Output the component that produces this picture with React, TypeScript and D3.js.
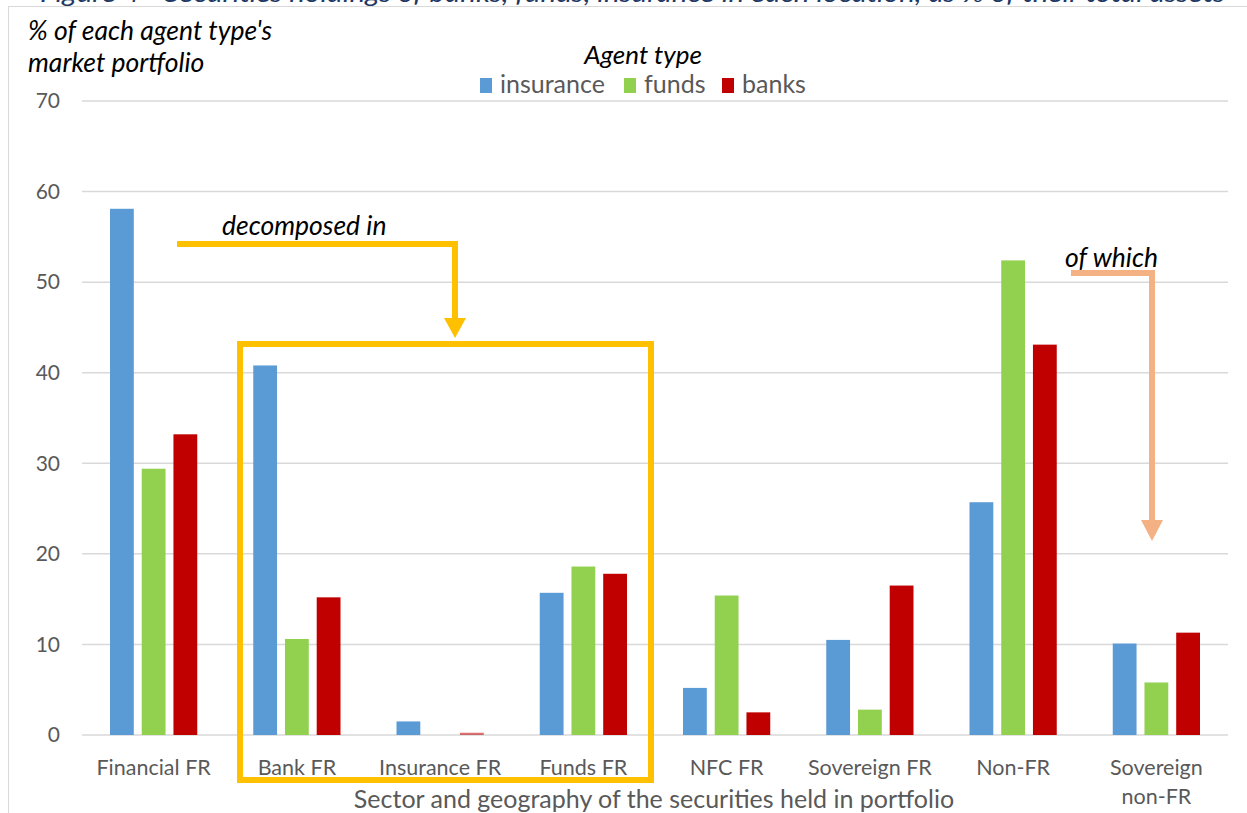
import React from "react";
import * as d3 from "d3";

const categories = [
  ["Financial FR"],
  ["Bank FR"],
  ["Insurance FR"],
  ["Funds FR"],
  ["NFC FR"],
  ["Sovereign FR"],
  ["Non-FR"],
  ["Sovereign", "non-FR"],
];
const seriesNames = ["insurance", "funds", "banks"];
const insurance = [58.1, 40.8, 1.5, 15.7, 5.2, 10.5, 25.7, 10.1];
const funds = [29.4, 10.6, 0, 18.6, 15.4, 2.8, 52.4, 5.8];
const banks = [33.2, 15.2, 0.25, 17.8, 2.5, 16.5, 43.1, 11.3];
const seriesValues = [insurance, funds, banks];
const seriesColors = ["#5B9BD5", "#92D050", "#C00000"];
const yTicks = [0, 10, 20, 30, 40, 50, 60, 70];

const W = 1247;
const H = 813;
const FONT = "Lato, 'Open Sans', sans-serif";

export default function App() {
  const left = 82;
  const right = 1228;
  const top = 101;
  const bottom = 735;
  const x = d3
    .scaleBand<number>()
    .domain(categories.map((_, i) => i))
    .range([left, right])
    .paddingInner(0)
    .paddingOuter(0);
  const inner = d3
    .scaleBand<number>()
    .domain([0, 1, 2])
    .range([28, x.bandwidth() - 28])
    .paddingInner(0.25);
  const y = d3.scaleLinear().domain([0, 70]).range([bottom, top]);

  const yellow = "#FFC000";
  const orange = "#F4B183";
  const legendX = [480, 624, 722];

  return (
    <svg
      width={W}
      height={H}
      style={{ position: "absolute", left: 0, top: 0, background: "#fff" }}
    >
      {/* figure title, clipped by the top edge as in the source */}
      <text
        x={40}
        y={2}
        fontFamily={FONT}
        fontStyle="italic"
        fontSize={26}
        fill="#1F3864"
        textLength={1185}
        lengthAdjust="spacingAndGlyphs"
      >
        Figure 4 - Securities holdings of banks, funds, insurance in each location, as % of their total assets
      </text>
      {/* chart frame */}
      <rect x={8.5} y={6.5} width={1260} height={830} fill="none" stroke="#D9D9D9" strokeWidth={1} />

      {/* gridlines + y ticks */}
      {yTicks.map((t) => (
        <g key={t}>
          <line x1={left} x2={right} y1={y(t)} y2={y(t)} stroke="#D9D9D9" strokeWidth={1.5} />
          <text
            x={60}
            y={y(t)}
            dy="0.35em"
            textAnchor="end"
            fontFamily={FONT}
            fontSize={21}
            fill="#595959"
          >
            {t}
          </text>
        </g>
      ))}

      {/* bars */}
      {seriesValues.map((vals, s) =>
        vals.map((v, i) => (
          <rect
            key={`${s}-${i}`}
            x={(x(i) ?? 0) + (inner(s) ?? 0)}
            y={y(v)}
            width={inner.bandwidth()}
            height={bottom - y(v)}
            fill={seriesColors[s]}
            opacity={v < 0.5 && v > 0 ? 0.55 : 1}
          />
        ))
      )}

      {/* category labels */}
      {categories.map((lines, i) => (
        <text
          key={i}
          x={(x(i) ?? 0) + x.bandwidth() / 2}
          y={775}
          textAnchor="middle"
          fontFamily={FONT}
          fontSize={21.5}
          fill="#595959"
        >
          {lines.map((l, j) => (
            <tspan key={j} x={(x(i) ?? 0) + x.bandwidth() / 2} dy={j === 0 ? 0 : 29}>
              {l}
            </tspan>
          ))}
        </text>
      ))}

      {/* x axis title */}
      <text x={654} y={808} textAnchor="middle" fontFamily={FONT} fontSize={25} fill="#595959">
        Sector and geography of the securities held in portfolio
      </text>

      {/* y axis title */}
      <text x={28} y={40} fontFamily={FONT} fontStyle="italic" fontSize={26.5} fill="#000">
        % of each agent type's
      </text>
      <text x={28} y={72} fontFamily={FONT} fontStyle="italic" fontSize={26.5} fill="#000">
        market portfolio
      </text>

      {/* legend */}
      <text x={643} y={64} textAnchor="middle" fontFamily={FONT} fontStyle="italic" fontSize={26} fill="#000">
        Agent type
      </text>
      {seriesNames.map((n, s) => (
        <g key={n}>
          <rect x={legendX[s]} y={78} width={12} height={15} fill={seriesColors[s]} />
          <text x={legendX[s] + 20} y={93} fontFamily={FONT} fontSize={25} fill="#595959">
            {n}
          </text>
        </g>
      ))}

      {/* yellow box & arrow */}
      <rect x={240} y={344} width={411} height={436} fill="none" stroke={yellow} strokeWidth={6} />
      <polyline points="177,244 455,244 455,320" fill="none" stroke={yellow} strokeWidth={6} />
      <polygon points="444,318 466,318 455,338" fill={yellow} />
      <text x={222} y={235} fontFamily={FONT} fontStyle="italic" fontSize={26.5} fill="#000">
        decomposed in
      </text>

      {/* orange arrow */}
      <polyline points="1071,273 1152,273 1152,522" fill="none" stroke={orange} strokeWidth={6} />
      <polygon points="1141,520 1163,520 1152,541" fill={orange} />
      <text x={1065} y={267} fontFamily={FONT} fontStyle="italic" fontSize={26.5} fill="#000">
        of which
      </text>
    </svg>
  );
}
